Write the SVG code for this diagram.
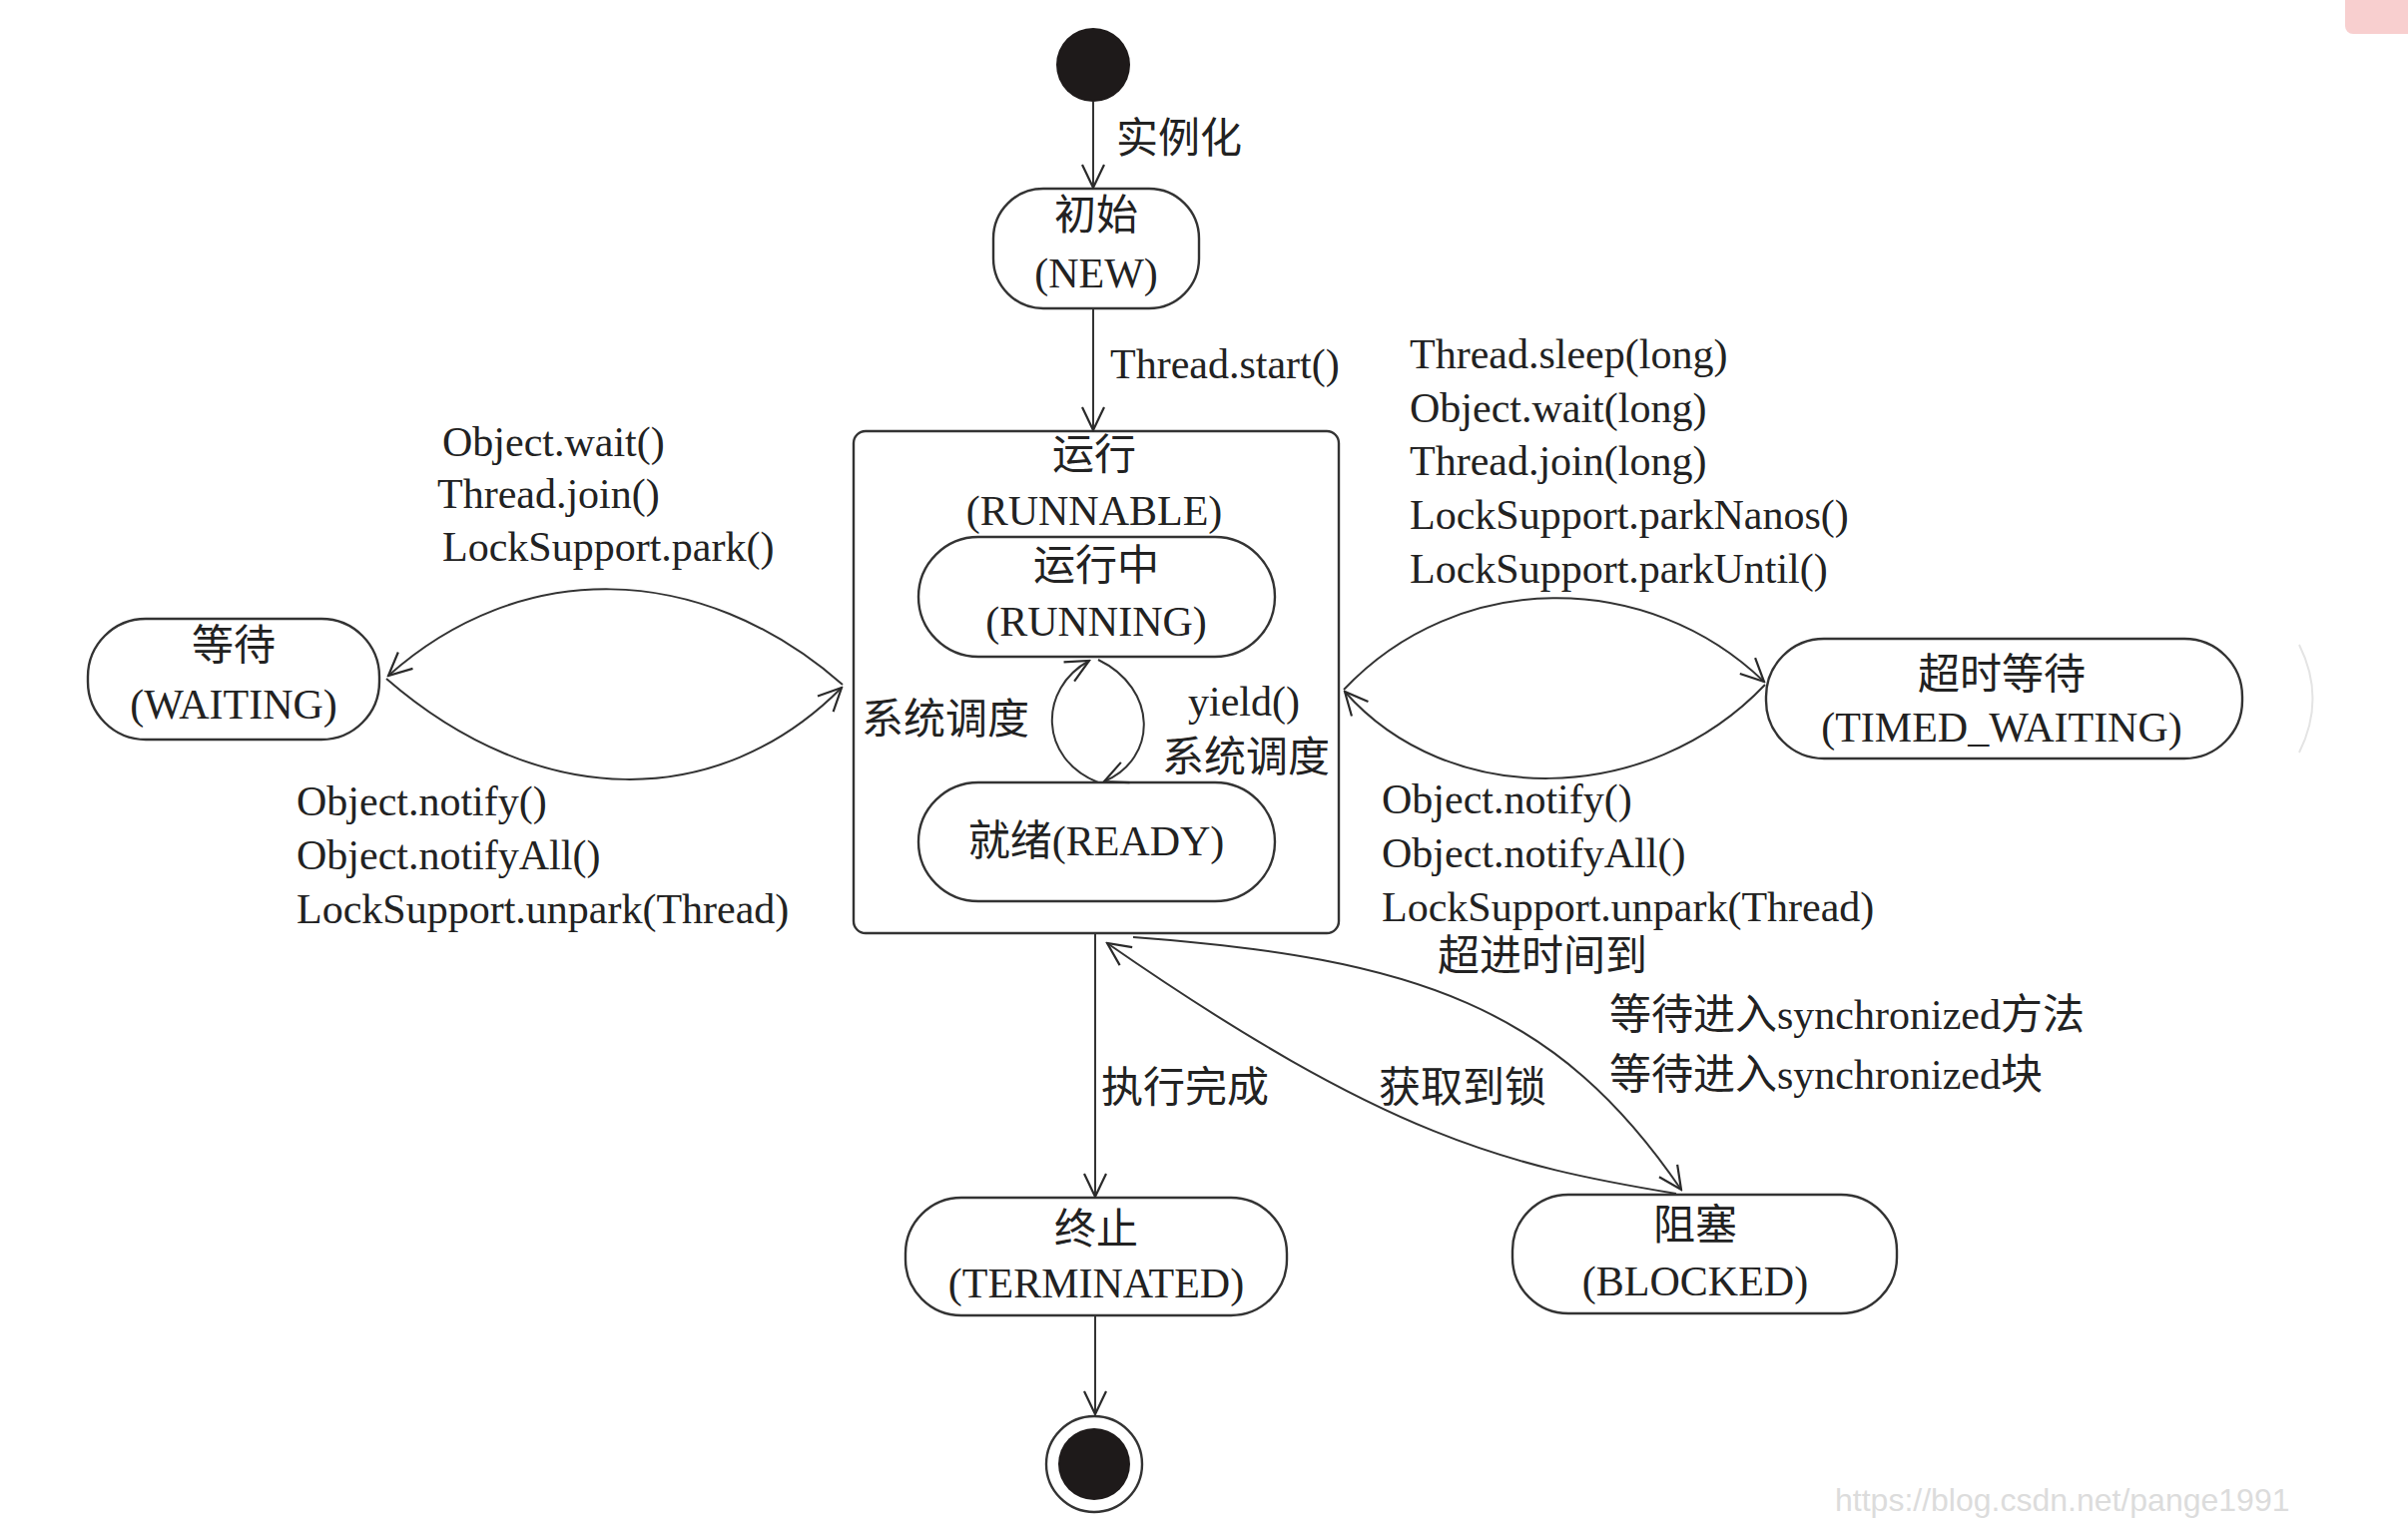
<svg xmlns="http://www.w3.org/2000/svg" width="2412" height="1528" viewBox="0 0 2412 1528">
<defs>
<marker id="arr" markerUnits="userSpaceOnUse" markerWidth="26" markerHeight="26" viewBox="0 0 26 26" refX="24" refY="13" orient="auto">
<path d="M1,2 L24,13 L1,24" fill="none" stroke="#2a2a2a" stroke-width="2.2"/>
</marker>
</defs>
<style>
text{font-family:"Liberation Serif","Noto Sans CJK SC",serif;font-size:42px;fill:#222}
.c{text-anchor:middle}
.node{fill:#fff;stroke:#333;stroke-width:2.4}
.edge{fill:none;stroke:#333;stroke-width:2;marker-end:url(#arr)}
</style>
<rect width="2412" height="1528" fill="#fff"/>
<rect x="2349" y="-10" width="80" height="44" rx="8" fill="#f8cfcf"/>
<path d="M2303,646 Q2330,700 2303,754" fill="none" stroke="#e4e4e4" stroke-width="2"/>
<text x="1838" y="1514" style="font-family:'Liberation Sans',sans-serif;font-size:32px;fill:#dcdcdc">https://blog.csdn.net/pange1991</text>

<g id="start"><circle cx="1095" cy="65" r="37" fill="#1e1a1a"/></g>

<g id="new">
<rect class="node" x="995" y="189" width="206" height="120" rx="50"/>
<text class="c" x="1098" y="230">初始</text>
<text class="c" x="1098" y="288">(NEW)</text>
</g>

<g id="runnable">
<rect class="node" x="855" y="432" width="486" height="503" rx="12"/>
<text class="c" x="1096" y="470">运行</text>
<text class="c" x="1096" y="526">(RUNNABLE)</text>
</g>

<g id="running">
<rect class="node" x="920" y="538" width="357" height="120" rx="60"/>
<text class="c" x="1098" y="581">运行中</text>
<text class="c" x="1098" y="637">(RUNNING)</text>
</g>

<g id="ready">
<rect class="node" x="920" y="784" width="357" height="119" rx="60"/>
<text class="c" x="1098" y="857">就绪(READY)</text>
</g>

<g id="waiting">
<rect class="node" x="88" y="620" width="292" height="121" rx="58"/>
<text class="c" x="234" y="661">等待</text>
<text class="c" x="234" y="720">(WAITING)</text>
</g>

<g id="timed_waiting">
<rect class="node" x="1769" y="640" width="477" height="120" rx="58"/>
<text class="c" x="2005" y="690">超时等待</text>
<text class="c" x="2005" y="743">(TIMED_WAITING)</text>
</g>

<g id="terminated">
<rect class="node" x="907" y="1200" width="382" height="118" rx="56"/>
<text class="c" x="1098" y="1246">终止</text>
<text class="c" x="1098" y="1300">(TERMINATED)</text>
</g>

<g id="blocked">
<rect class="node" x="1515" y="1197" width="385" height="119" rx="56"/>
<text class="c" x="1698" y="1242">阻塞</text>
<text class="c" x="1698" y="1298">(BLOCKED)</text>
</g>

<g id="end">
<circle cx="1096" cy="1467" r="48" fill="#fff" stroke="#333" stroke-width="2.4"/>
<circle cx="1096" cy="1467" r="36" fill="#1e1a1a"/>
</g>

<g id="connectors">
<path class="edge" d="M1095,102 L1095,188"/>
<path class="edge" d="M1095,309 L1095,431"/>
<path class="edge" d="M1100,784 C1040,760 1040,690 1091,662"/>
<path class="edge" d="M1100,661 C1160,690 1160,760 1106,783"/>
<path class="edge" d="M844,686 C700,560 520,560 389,677"/>
<path class="edge" d="M387,680 C540,813 720,813 843,689"/>
<path class="edge" d="M1346,691 C1460,570 1650,570 1767,683"/>
<path class="edge" d="M1768,686 C1650,810 1450,810 1347,693"/>
<path class="edge" d="M1097,935 L1097,1199"/>
<path class="edge" d="M1097,1318 L1097,1417"/>
<path class="edge" d="M1135,939 C1420,960 1560,1010 1684,1192"/>
<path class="edge" d="M1679,1196 C1510,1168 1390,1140 1109,945"/>
<text x="1118" y="153">实例化</text>
<text x="1112" y="379">Thread.start()</text>
<text x="443" y="457">Object.wait()</text>
<text x="438" y="509">Thread.join()</text>
<text x="443" y="562">LockSupport.park()</text>
<text x="297" y="817">Object.notify()</text>
<text x="297" y="871">Object.notifyAll()</text>
<text x="297" y="925">LockSupport.unpark(Thread)</text>
<text x="1412" y="369">Thread.sleep(long)</text>
<text x="1412" y="423">Object.wait(long)</text>
<text x="1412" y="476">Thread.join(long)</text>
<text x="1412" y="530">LockSupport.parkNanos()</text>
<text x="1412" y="584">LockSupport.parkUntil()</text>
<text x="1384" y="815">Object.notify()</text>
<text x="1384" y="869">Object.notifyAll()</text>
<text x="1384" y="923">LockSupport.unpark(Thread)</text>
<text x="1440" y="972">超进时间到</text>
<text x="1612" y="1031">等待进入synchronized方法</text>
<text x="1612" y="1091">等待进入synchronized块</text>
<text x="1103" y="1104">执行完成</text>
<text x="1381" y="1104">获取到锁</text>
<text x="863" y="735">系统调度</text>
<text x="1190" y="717">yield()</text>
<text x="1164" y="773">系统调度</text>
</g>
</svg>
